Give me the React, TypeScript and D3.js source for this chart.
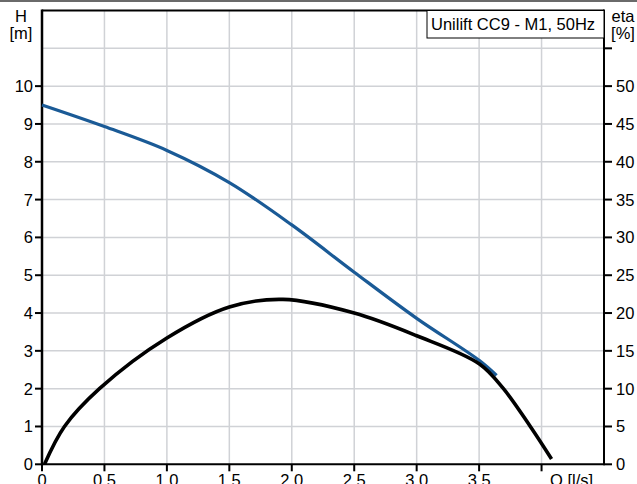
import React from "react";
import * as d3 from "d3";

const qTicks = [0, 0.5, 1.0, 1.5, 2.0, 2.5, 3.0, 3.5, 4.0];
const qTickLabels = ["0", "0.5", "1.0", "1.5", "2.0", "2.5", "3.0", "3.5", ""];
const hTicks = [0, 1, 2, 3, 4, 5, 6, 7, 8, 9, 10];
const etaTicks = [0, 5, 10, 15, 20, 25, 30, 35, 40, 45, 50, 55];
const etaTickLabels = ["0", "5", "10", "15", "20", "25", "30", "35", "40", "45", "50", ""];

const headQ = [0, 0.5, 1.0, 1.5, 2.0, 2.5, 3.0, 3.5, 3.64];
const headH = [9.5, 8.93, 8.3, 7.45, 6.33, 5.08, 3.86, 2.75, 2.35];

const etaQ = [0.02, 0.18, 0.46, 1.0, 1.5, 1.93, 2.5, 3.0, 3.5, 3.69, 3.91, 4.08];
const etaV = [0, 5, 10, 16.7, 20.8, 21.8, 20.0, 17.0, 13.3, 10.1, 5.0, 0.7];

const title = "Unilift CC9 - M1, 50Hz";

export default function App() {
  const W = 637, H = 484;
  const x0 = 42, x1 = 604, yb = 464.3, yt = 10.5;
  const x = d3.scaleLinear().domain([0, 4.5]).range([x0, x1]);
  const y = d3.scaleLinear().domain([0, 12]).range([yb, yt]);
  const ye = d3.scaleLinear().domain([0, 60]).range([yb, yt]);
  const font = "'Liberation Sans', Arial, sans-serif";
  const fs = 16.5;

  const hLine = d3.line<number>().x((_, i) => x(headQ[i])).y((d) => y(d)).curve(d3.curveCatmullRom.alpha(0.5))(headH) || "";
  const eLine = d3.line<number>().x((_, i) => x(etaQ[i])).y((d) => ye(d)).curve(d3.curveCatmullRom.alpha(0.5))(etaV) || "";

  const gridX = [0.5, 1, 1.5, 2, 2.5, 3, 3.5, 4];
  const gridY = [1, 2, 3, 4, 5, 6, 7, 8, 9, 10, 11];

  return (
    <svg width={W} height={H} style={{ position: "absolute", left: 0, top: 0, background: "#fff" }} fontFamily={font}>
      <rect x={0} y={0} width={W} height={H} fill="#fff" />
      <line x1={0} x2={W} y1={1} y2={1} stroke="#6a6a6a" strokeWidth={2} />
      {gridX.map((v) => (
        <line key={"gx" + v} x1={x(v)} x2={x(v)} y1={yt} y2={yb} stroke="#d0d2d6" strokeWidth={1.5} />
      ))}
      {gridY.map((v) => (
        <line key={"gy" + v} x1={x0} x2={x1} y1={y(v)} y2={y(v)} stroke="#d0d2d6" strokeWidth={1.5} />
      ))}
      <line x1={x0} x2={x1} y1={yt} y2={yt} stroke="#000" strokeWidth={2} />
      <line x1={x0} x2={x1} y1={yb} y2={yb} stroke="#000" strokeWidth={2} />
      <line x1={x0} x2={x0} y1={yt - 1} y2={yb + 1} stroke="#000" strokeWidth={2.5} />
      <line x1={x1} x2={x1} y1={yt - 1} y2={yb + 1} stroke="#000" strokeWidth={2} />
      {hTicks.map((v) => (
        <g key={"ht" + v}>
          <line x1={x0 - 7} x2={x0} y1={y(v)} y2={y(v)} stroke="#000" strokeWidth={2} />
          <text x={x0 - 9} y={y(v) + 6} fontSize={fs} textAnchor="end" fill="#000">{v}</text>
        </g>
      ))}
      {etaTicks.map((v, i) => (
        <g key={"et" + v}>
          <line x1={x1} x2={x1 + 8} y1={ye(v)} y2={ye(v)} stroke="#000" strokeWidth={2} />
          <text x={x1 + 12} y={ye(v) + 6} fontSize={fs} textAnchor="start" fill="#000">{etaTickLabels[i]}</text>
        </g>
      ))}
      {qTicks.map((v, i) => (
        <g key={"qt" + v}>
          <line x1={x(v)} x2={x(v)} y1={yb} y2={yb + 7} stroke="#000" strokeWidth={2} />
          <text x={x(v)} y={486} fontSize={fs} textAnchor="middle" fill="#000">{qTickLabels[i]}</text>
        </g>
      ))}
      <text x={550} y={486} fontSize={fs} fill="#000">Q [l/s]</text>
      <text x={21} y={22} fontSize={fs} textAnchor="middle" fill="#000">H</text>
      <text x={21} y={38.5} fontSize={fs} textAnchor="middle" fill="#000">[m]</text>
      <text x={623} y={22} fontSize={fs} textAnchor="middle" fill="#000">eta</text>
      <text x={623} y={38.5} fontSize={fs} textAnchor="middle" fill="#000">[%]</text>
      <rect x={427} y={yt} width={x1 - 427} height={27.5} fill="#fff" stroke="#000" strokeWidth={1} />
      <text x={431} y={30} fontSize={fs} fill="#000">{title}</text>
      <path d={hLine} fill="none" stroke="#1a5a96" strokeWidth={3.2} />
      <path d={eLine} fill="none" stroke="#000" strokeWidth={3.6} />
    </svg>
  );
}
